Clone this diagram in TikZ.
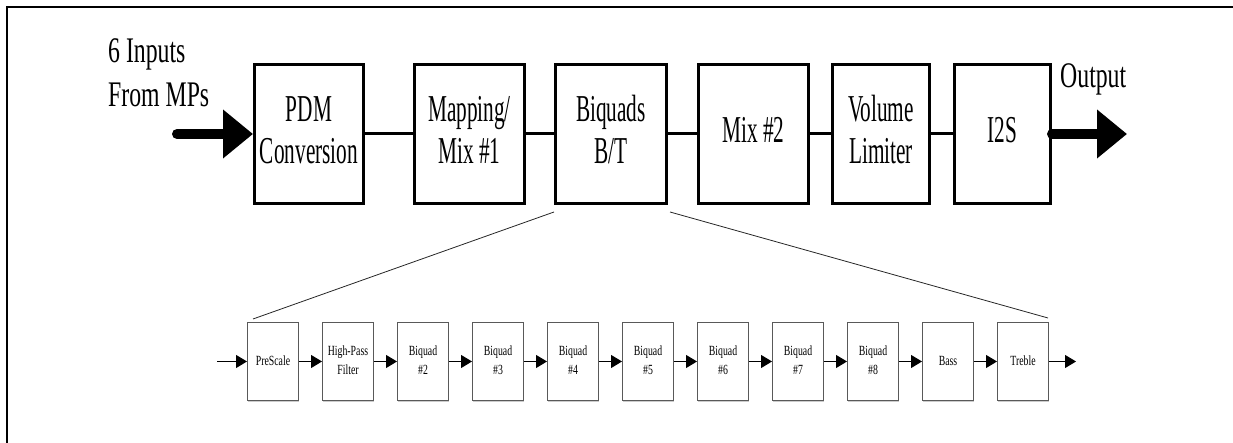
\documentclass[tikz,border=0pt]{standalone}
\usepackage{fontspec}
\setmainfont{Liberation Serif}
\usepackage{graphicx}
\usepackage{tikz}
\usetikzlibrary{positioning, arrows.meta, shadows}

\newcommand{\angosto}[3][c]{\scalebox{#2}[1]{\begin{tabular}{@{}#1@{}}#3\end{tabular}}}

\tikzset{
    caja_grande/.style={rectangle, draw=black, line width=3pt, minimum height=139pt, inner sep=0pt, font=\fontsize{38}{42}\selectfont},
    caja_chica/.style={rectangle, draw=gray!70!black, fill=white, line width=1pt, minimum width=51pt, minimum height=78pt, inner sep=0pt, font=\fontsize{14}{19}\selectfont, drop shadow={shadow xshift=0pt, shadow yshift=-2pt, fill=gray!40, opacity=1}},
    etiqueta/.style={inner sep=0pt, font=\fontsize{36}{44}\selectfont},
    linea/.style={draw, line width=3pt},
    flecha_gruesa/.style={draw, line width=10pt, line cap=round, -{Triangle[length=30pt, width=47pt]}},
    flecha_fina/.style={draw, line width=1pt, -{Triangle[length=11pt, width=13pt]}},
    linea_zoom/.style={draw, line width=0.8pt, gray!30!black}
}

\begin{document}
\begin{tikzpicture}[x=1pt, y=1pt, node distance=20pt]

    \useasboundingbox (0,0) rectangle (1233,443);

    % Marco
    \draw[line width=2.5pt] (7,0) -- (7,436) -- (1233,436);

    % 1. Fila superior
    \node[caja_grande, minimum width=109pt] (pdm) at (309,309) {\angosto{0.56}{PDM\\Conversion}};
    \node[caja_grande, minimum width=110pt, right=48pt of pdm] (mapeo) {\angosto{0.56}{Mapping/\\Mix \#1}};
    \node[caja_grande, minimum width=111pt, right=28pt of mapeo] (biquads) {\angosto{0.56}{Biquads\\B/T}};
    \node[caja_grande, minimum width=110pt, right=29pt of biquads] (mix2) {\angosto{0.56}{Mix \#2}};
    \node[caja_grande, minimum width=97pt, right=21pt of mix2] (volumen) {\angosto{0.56}{Volume\\Limiter}};
    \node[caja_grande, minimum width=96pt, right=22pt of volumen] (i2s) {\angosto{0.56}{I2S}};

    % Entradas y salida
    \node[etiqueta, anchor=north west] (entrada) at (108,411) {\angosto[l]{0.66}{6 Inputs\\From MPs}};
    \node[etiqueta, anchor=north west] (salida) at (1060,386) {\angosto{0.66}{Output}};
    \coordinate (in_ini) at (177,309);
    \coordinate (out_fin) at (1127,309);

    % 2. Fila inferior (detalle de Biquads B/T)
    \foreach \i/\txt in {1/PreScale, 2/{High-Pass\\Filter}, 3/{Biquad\\\#2}, 4/{Biquad\\\#3},
                         5/{Biquad\\\#4}, 6/{Biquad\\\#5}, 7/{Biquad\\\#6}, 8/{Biquad\\\#7},
                         9/{Biquad\\\#8}, 10/Bass, 11/Treble}
        \node[caja_chica] (b\i) at ({273+75*(\i-1)},81.5) {\angosto{0.7}{\txt}};
    \coordinate (b_in) at (217,81.5);
    \coordinate (b_out) at (1076,81.5);

    % --- CONEXIONES ---
    \draw[flecha_gruesa] (in_ini) -- (pdm.west);
    \draw[linea] (pdm.east) -- (mapeo.west);
    \draw[linea] (mapeo.east) -- (biquads.west);
    \draw[linea] (biquads.east) -- (mix2.west);
    \draw[linea] (mix2.east) -- (volumen.west);
    \draw[linea] (volumen.east) -- (i2s.west);
    \draw[flecha_gruesa] (i2s.east) -- (out_fin);

    \draw[flecha_fina] (b_in) -- (b1.west);
    \foreach \i [evaluate=\i as \j using int(\i+1)] in {1,...,10}
        \draw[flecha_fina] (b\i.east) -- (b\j.west);
    \draw[flecha_fina] (b11.east) -- (b_out);

    % Lineas de ampliacion
    \draw[linea_zoom] ([yshift=-7pt]biquads.south west) -- ([xshift=6pt,yshift=3pt]b1.north west);
    \draw[linea_zoom] ([xshift=2pt,yshift=-7pt]biquads.south east) -- ([xshift=-1pt,yshift=4pt]b11.north east);

\end{tikzpicture}
\end{document}
